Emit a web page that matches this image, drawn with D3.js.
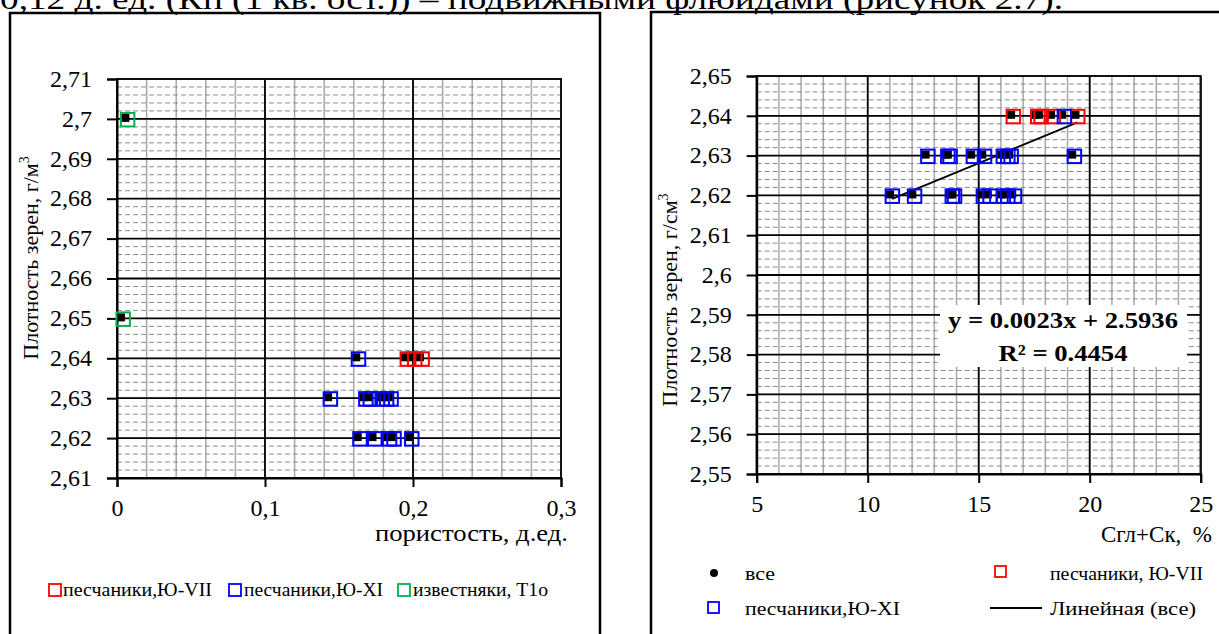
<!DOCTYPE html>
<html><head><meta charset="utf-8">
<script src="https://cdn.jsdelivr.net/npm/d3@7"></script>
<style>html,body{margin:0;padding:0;background:#fff;overflow:hidden}text{font-family:"Liberation Serif","Times New Roman",serif;fill:#000}</style>
</head><body>
<svg id="c" width="1219" height="634"></svg>
<script>
// ---------- DATA ----------
// Left chart: x = пористость (д.ед.), y = плотность зерен
const leftRed   = [[0.196,2.64],[0.201,2.64],[0.206,2.64]];
const leftBlue  = [[0.163,2.64],[0.144,2.63],[0.168,2.63],[0.171,2.63],[0.179,2.63],[0.182,2.63],[0.185,2.63],
                   [0.164,2.62],[0.174,2.62],[0.184,2.62],[0.187,2.62],[0.199,2.62]];
const leftGreen = [[0.007,2.70],[0.004,2.65]];
const leftXTicks = [0,0.1,0.2,0.3];
const leftYTicks = [2.61,2.62,2.63,2.64,2.65,2.66,2.67,2.68,2.69,2.70,2.71];
// Right chart: x = Сгл+Ск (%), y = плотность зерен
const rightRed  = [[16.55,2.64],[17.65,2.64],[17.8,2.64],[18.35,2.64],[19.45,2.64]];
const rightBlue = [[18.85,2.64],[12.7,2.63],[13.6,2.63],[13.7,2.63],[14.75,2.63],[15.25,2.63],[16.1,2.63],[16.3,2.63],[16.45,2.63],[19.3,2.63],
                   [11.1,2.62],[12.1,2.62],[13.8,2.62],[13.9,2.62],[15.2,2.62],[15.5,2.62],[16.1,2.62],[16.3,2.62],[16.6,2.62]];
const rightXTicks = [5,10,15,20,25];
const rightYTicks = [2.55,2.56,2.57,2.58,2.59,2.60,2.61,2.62,2.63,2.64,2.65];
const trendSlope = 0.0023, trendIntercept = 2.5936, trendR2 = 0.4454;

const svg = d3.select("#c");
const fmt = v => (+v.toFixed(2)).toString().replace(".", ",");
const SERIF = "Liberation Serif";

// top caption (cut by the page edge, as in the source)
const cap = svg.append("text").attr("x",0).attr("y",9).attr("font-size",30)
  .attr("textLength",1063).attr("lengthAdjust","spacingAndGlyphs");
cap.append("tspan").text("0,12 д. ед. (Кп");
cap.append("tspan").attr("font-size",18).attr("dy",-12).text("г");
cap.append("tspan").attr("dy",12).text("(1 кв. ост.)) – подвижными флюидами (рисунок 2.7).");

// frames
svg.append("rect").attr("x",10).attr("y",13).attr("width",590).attr("height",650)
  .attr("fill","none").attr("stroke","#000").attr("stroke-width",2.5);
svg.append("rect").attr("x",651).attr("y",12).attr("width",620).attr("height",650)
  .attr("fill","none").attr("stroke","#000").attr("stroke-width",2.5);

function drawChart(o){
  const x = d3.scaleLinear().domain(o.xd).range(o.xr);
  const y = d3.scaleLinear().domain(o.yd).range(o.yr);
  const g = svg.append("g");
  const [x0,x1] = o.xr, [y0,y1] = o.yr;
  // minor vertical
  g.selectAll(".mv").data(d3.range(o.xd[0], o.xd[1]+1e-9, o.xMinor)).join("line")
    .attr("x1",d=>x(d)).attr("x2",d=>x(d)).attr("y1",y1).attr("y2",y0)
    .attr("stroke","#a8a8a8").attr("stroke-width",1.5);
  // minor horizontal dashed
  g.selectAll(".mh").data(d3.range(0, Math.round((o.yd[1]-o.yd[0])/0.002)+1).map(i=>o.yd[0]+i*0.002)).join("line")
    .attr("x1",x0).attr("x2",x1).attr("y1",d=>y(d)).attr("y2",d=>y(d))
    .attr("stroke","#8c8c8c").attr("stroke-width",1).attr("stroke-dasharray","5,3");
  // major
  g.selectAll(".Mv").data(o.xTicks).join("line")
    .attr("x1",d=>x(d)).attr("x2",d=>x(d)).attr("y1",y1).attr("y2",y0)
    .attr("stroke","#000").attr("stroke-width",1.8);
  g.selectAll(".Mh").data(o.yTicks).join("line")
    .attr("x1",x0).attr("x2",x1).attr("y1",d=>y(d)).attr("y2",d=>y(d))
    .attr("stroke","#000").attr("stroke-width",1.8);
  g.append("rect").attr("x",x0).attr("y",y1).attr("width",x1-x0).attr("height",y0-y1)
    .attr("fill","none").attr("stroke","#111").attr("stroke-width",2);
  // axes
  const ya = g.append("g").attr("transform",`translate(${x0},0)`)
    .call(d3.axisLeft(y).tickValues(o.yTicks).tickFormat(fmt).tickSize(10).tickPadding(15));
  const xa = g.append("g").attr("transform",`translate(0,${y0})`)
    .call(d3.axisBottom(x).tickValues(o.xTicks).tickFormat(o.xFmt).tickSize(9).tickPadding(12));
  [ya,xa].forEach(a=>{
    a.attr("font-family",SERIF).attr("font-size",24);
    a.select(".domain").attr("stroke","#000").attr("stroke-width",2);
    a.selectAll(".tick line").attr("stroke","#000").attr("stroke-width",2);
    a.selectAll("text").attr("font-size",24).attr("font-family",SERIF).attr("fill","#000");
  });
  ya.selectAll("text").attr("dy","0.3em");
  xa.selectAll("text").attr("dy","0.71em");
  // trendline
  if (o.trend){
    const tx = d3.extent(o.all, d=>d[0]);
    g.append("line").attr("x1",x(tx[0])).attr("x2",x(tx[1]))
      .attr("y1",y(trendSlope*tx[0]+trendIntercept)).attr("y2",y(trendSlope*tx[1]+trendIntercept))
      .attr("stroke","#000").attr("stroke-width",1.8);
  }
  // black markers ("все")
  g.selectAll(".blk").data(o.all).join("rect")
    .attr("x",d=>x(d[0])-6).attr("y",d=>y(d[1])-5).attr("width",8).attr("height",8).attr("fill","#000");
  // coloured open squares
  o.series.forEach(s=>{
    g.selectAll(null).data(s.data).join("rect")
      .attr("x",d=>x(d[0])-6.5).attr("y",d=>y(d[1])-6).attr("width",13.5).attr("height",13.5)
      .attr("fill","none").attr("stroke",s.color).attr("stroke-width",2);
  });
  return {x,y,g};
}

drawChart({xd:[0,0.3], xr:[117,561], yd:[2.61,2.71], yr:[478,79], xMinor:0.02,
  xTicks:leftXTicks, yTicks:leftYTicks, xFmt:fmt,
  all:[...leftRed,...leftBlue,...leftGreen],
  series:[{data:leftRed,color:"#ff0000"},{data:leftBlue,color:"#0000ff"},{data:leftGreen,color:"#00b050"}]});

drawChart({xd:[5,25], xr:[756.7,1200.7], yd:[2.55,2.65], yr:[474,76], xMinor:1,
  xTicks:rightXTicks, yTicks:rightYTicks, xFmt:d=>String(d), trend:true,
  all:[...rightRed,...rightBlue],
  series:[{data:rightRed,color:"#ff0000"},{data:rightBlue,color:"#0000ff"}]});

// axis titles
function vtitle(cx, cy, unit){
  const t = svg.append("text").attr("transform",`translate(${cx},${cy}) rotate(-90)`)
    .attr("text-anchor","middle").attr("font-size",22);
  t.append("tspan").text("Плотность зерен, "+unit);
  t.append("tspan").attr("font-size",14).attr("dy",-9).text("3");
}
vtitle(38, 258, "г/м");
vtitle(677, 300, "г/см");
svg.append("text").attr("x",568).attr("y",541).attr("text-anchor","end").attr("font-size",23)
  .attr("textLength",193).attr("lengthAdjust","spacingAndGlyphs").text("пористость, д.ед.");
svg.append("text").attr("x",1212).attr("y",542).attr("text-anchor","end").attr("font-size",23)
  .attr("xml:space","preserve").text("Сгл+Ск,  %");

// equation box
svg.append("rect").attr("x",940).attr("y",305).attr("width",247).attr("height",62).attr("fill","#fff");
svg.append("text").attr("x",1063).attr("y",328).attr("text-anchor","middle").attr("font-size",23).attr("font-weight","bold")
  .attr("textLength",230).attr("lengthAdjust","spacingAndGlyphs")
  .text(`y = ${trendSlope}x + ${trendIntercept}`);
svg.append("text").attr("x",1063).attr("y",361).attr("text-anchor","middle").attr("font-size",23).attr("font-weight","bold")
  .attr("textLength",129).attr("lengthAdjust","spacingAndGlyphs")
  .text(`R² = ${trendR2}`);

// left legend
const leftLegend = [
  {c:"#ff0000", t:"песчаники,Ю-VII", sx:49, tx:63, tl:149},
  {c:"#0000ff", t:"песчаники,Ю-XI", sx:229, tx:244, tl:139},
  {c:"#00b050", t:"известняки, T1o", sx:398, tx:413, tl:135}];
leftLegend.forEach(d=>{
  svg.append("rect").attr("x",d.sx).attr("y",584).attr("width",12).attr("height",12)
    .attr("fill","none").attr("stroke",d.c).attr("stroke-width",1.8);
  svg.append("text").attr("x",d.tx).attr("y",596).attr("font-size",19)
    .attr("textLength",d.tl).attr("lengthAdjust","spacingAndGlyphs").text(d.t);
});

// right legend
svg.append("circle").attr("cx",714).attr("cy",573).attr("r",4).attr("fill","#000");
svg.append("text").attr("x",745).attr("y",580).attr("font-size",19).attr("textLength",30).attr("lengthAdjust","spacingAndGlyphs").text("все");
svg.append("rect").attr("x",995).attr("y",566).attr("width",11).attr("height",11).attr("fill","none").attr("stroke","#ff0000").attr("stroke-width",1.8);
svg.append("text").attr("x",1050).attr("y",580).attr("font-size",19).attr("textLength",153).attr("lengthAdjust","spacingAndGlyphs").text("песчаники, Ю-VII");
svg.append("rect").attr("x",708).attr("y",602).attr("width",11).attr("height",11).attr("fill","none").attr("stroke","#0000ff").attr("stroke-width",1.8);
svg.append("text").attr("x",745).attr("y",615).attr("font-size",19).attr("textLength",155).attr("lengthAdjust","spacingAndGlyphs").text("песчаники,Ю-XI");
svg.append("line").attr("x1",990).attr("x2",1042).attr("y1",608).attr("y2",608).attr("stroke","#000").attr("stroke-width",1.8);
svg.append("text").attr("x",1050).attr("y",615).attr("font-size",19).attr("textLength",146).attr("lengthAdjust","spacingAndGlyphs").text("Линейная (все)");
</script>
</body></html>
